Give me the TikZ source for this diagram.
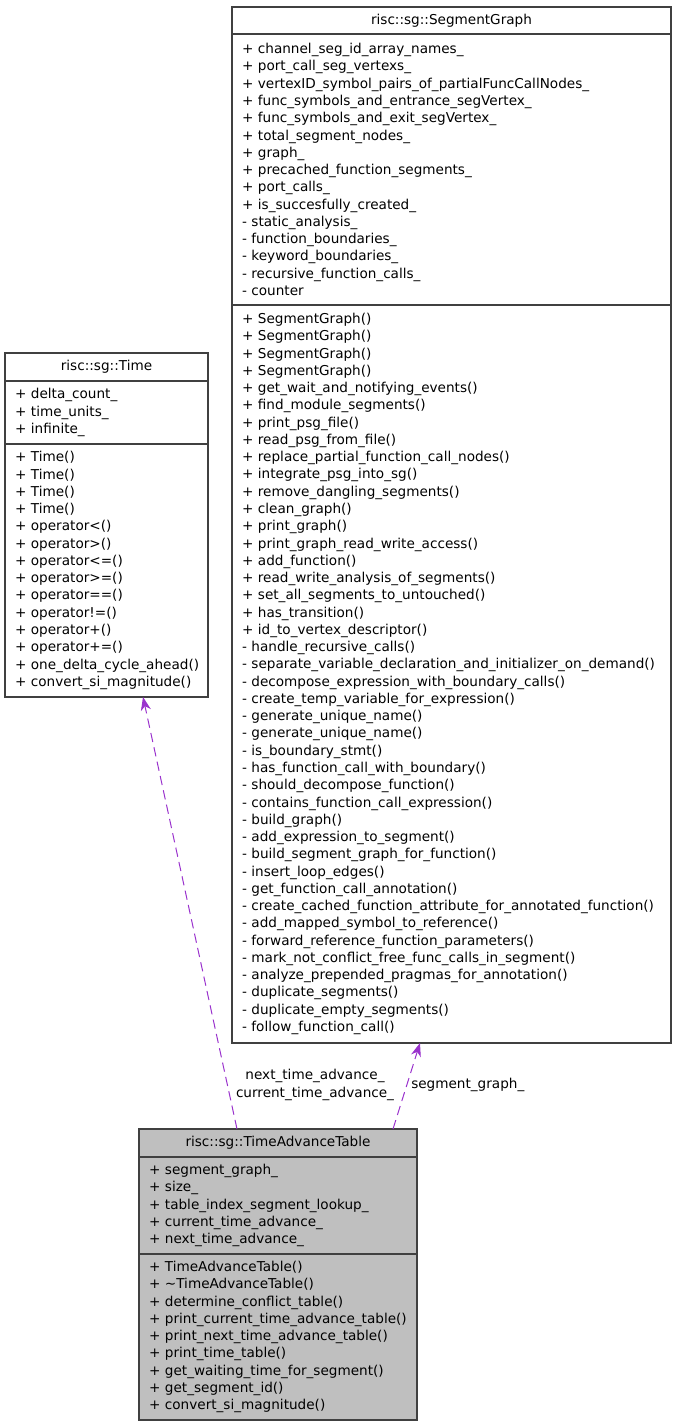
\documentclass[tikz,border=0pt]{standalone}
\usepackage{fontspec}
\setmainfont{DejaVu Sans}
\usepackage{tikz}
\usetikzlibrary{arrows.meta,positioning,calc}
\definecolor{EdgePurple}{HTML}{9A32CD}
\definecolor{BoxGray}{HTML}{BFBFBF}
\definecolor{LineDark}{HTML}{404040}

\begin{document}
\begin{tikzpicture}[
    x=0.75pt, y=-0.75pt,
    font=\fontsize{10.2pt}{12.95pt}\selectfont,
    part/.style={rectangle, draw=LineDark, line width=0.8pt, outer sep=0pt, inner ysep=0pt, inner xsep=7.5pt},
    classname/.style={part, align=center},
    members/.style={part, align=left, text width=#1},
    usage/.style={-{Stealth[length=10pt, width=7.5pt, inset=3pt]}, draw=EdgePurple, line width=0.75pt, dash pattern=on 7pt off 4pt},
    edgelabel/.style={align=center, inner sep=0pt}
]
\useasboundingbox (0,0) rectangle (677,1427);

\node[classname, minimum width=329.25pt, minimum height=20.25pt, anchor=north west] (sgname) at (232,7) {risc::sg::SegmentGraph};
\node[members=314.25pt, minimum width=329.25pt, minimum height=203.25pt, below=0pt of sgname] (sgattr) {+ channel\_seg\_id\_array\_names\_\\+ port\_call\_seg\_vertexs\_\\+ vertexID\_symbol\_pairs\_of\_partialFuncCallNodes\_\\+ func\_symbols\_and\_entrance\_segVertex\_\\+ func\_symbols\_and\_exit\_segVertex\_\\+ total\_segment\_nodes\_\\+ graph\_\\+ precached\_function\_segments\_\\+ port\_calls\_\\+ is\_succesfully\_created\_\\- static\_analysis\_\\- function\_boundaries\_\\- keyword\_boundaries\_\\- recursive\_function\_calls\_\\- counter};
\node[members=314.25pt, minimum width=329.25pt, minimum height=553.5pt, below=0pt of sgattr] (sgops) {+ SegmentGraph()\\+ SegmentGraph()\\+ SegmentGraph()\\+ SegmentGraph()\\+ get\_wait\_and\_notifying\_events()\\+ find\_module\_segments()\\+ print\_psg\_file()\\+ read\_psg\_from\_file()\\+ replace\_partial\_function\_call\_nodes()\\+ integrate\_psg\_into\_sg()\\+ remove\_dangling\_segments()\\+ clean\_graph()\\+ print\_graph()\\+ print\_graph\_read\_write\_access()\\+ add\_function()\\+ read\_write\_analysis\_of\_segments()\\+ set\_all\_segments\_to\_untouched()\\+ has\_transition()\\+ id\_to\_vertex\_descriptor()\\- handle\_recursive\_calls()\\-~separate\_variable\_declaration\_and\_initializer\_on\_demand()\\- decompose\_expression\_with\_boundary\_calls()\\- create\_temp\_variable\_for\_expression()\\- generate\_unique\_name()\\- generate\_unique\_name()\\- is\_boundary\_stmt()\\- has\_function\_call\_with\_boundary()\\- should\_decompose\_function()\\- contains\_function\_call\_expression()\\- build\_graph()\\- add\_expression\_to\_segment()\\- build\_segment\_graph\_for\_function()\\- insert\_loop\_edges()\\- get\_function\_call\_annotation()\\-~create\_cached\_function\_attribute\_for\_annotated\_function()\\- add\_mapped\_symbol\_to\_reference()\\- forward\_reference\_function\_parameters()\\- mark\_not\_conflict\_free\_func\_calls\_in\_segment()\\- analyze\_prepended\_pragmas\_for\_annotation()\\- duplicate\_segments()\\- duplicate\_empty\_segments()\\- follow\_function\_call()};

\node[classname, minimum width=152.25pt, minimum height=21pt, anchor=north west] (timename) at (5,353) {risc::sg::Time};
\node[members=137.25pt, minimum width=152.25pt, minimum height=47.25pt, below=0pt of timename] (timeattr) {+ delta\_count\_\\+ time\_units\_\\+ infinite\_};
\node[members=137.25pt, minimum width=152.25pt, minimum height=189.75pt, below=0pt of timeattr] (timeops) {+ Time()\\+ Time()\\+ Time()\\+ Time()\\+ operator<()\\+ operator>()\\+ operator<=()\\+ operator>=()\\+ operator==()\\+ operator!=()\\+ operator+()\\+ operator+=()\\+~one\_delta\_cycle\_ahead()\\+~convert\_si\_magnitude()};

\node[classname, fill=BoxGray, minimum width=208.5pt, minimum height=21pt, anchor=north west] (tatname) at (139,1129) {risc::sg::TimeAdvanceTable};
\node[members=193.5pt, fill=BoxGray, minimum width=208.5pt, minimum height=72.75pt, below=0pt of tatname] (tatattr) {+ segment\_graph\_\\+ size\_\\+ table\_index\_segment\_lookup\_\\+ current\_time\_advance\_\\+ next\_time\_advance\_};
\node[members=193.5pt, fill=BoxGray, minimum width=208.5pt, minimum height=124.5pt, below=0pt of tatattr] (tatops) {+ TimeAdvanceTable()\\+ \textasciitilde TimeAdvanceTable()\\+ determine\_conflict\_table()\\+~print\_current\_time\_advance\_table()\\+~print\_next\_time\_advance\_table()\\+ print\_time\_table()\\+~get\_waiting\_time\_for\_segment()\\+ get\_segment\_id()\\+ convert\_si\_magnitude()};

\draw[usage] ($(tatname.north west)+(98,0)$) -- ($(timeops.south)+(36.5,0)$);
\draw[usage] ($(tatname.north west)+(254,0)$) -- ($(sgops.south)+(-31.5,0)$);

\node[edgelabel] (timelabel) at (315,1085) {next\_time\_advance\_\\current\_time\_advance\_};
\node[edgelabel, anchor=west] (sglabel) at (411,1085) {segment\_graph\_};
\end{tikzpicture}
\end{document}
